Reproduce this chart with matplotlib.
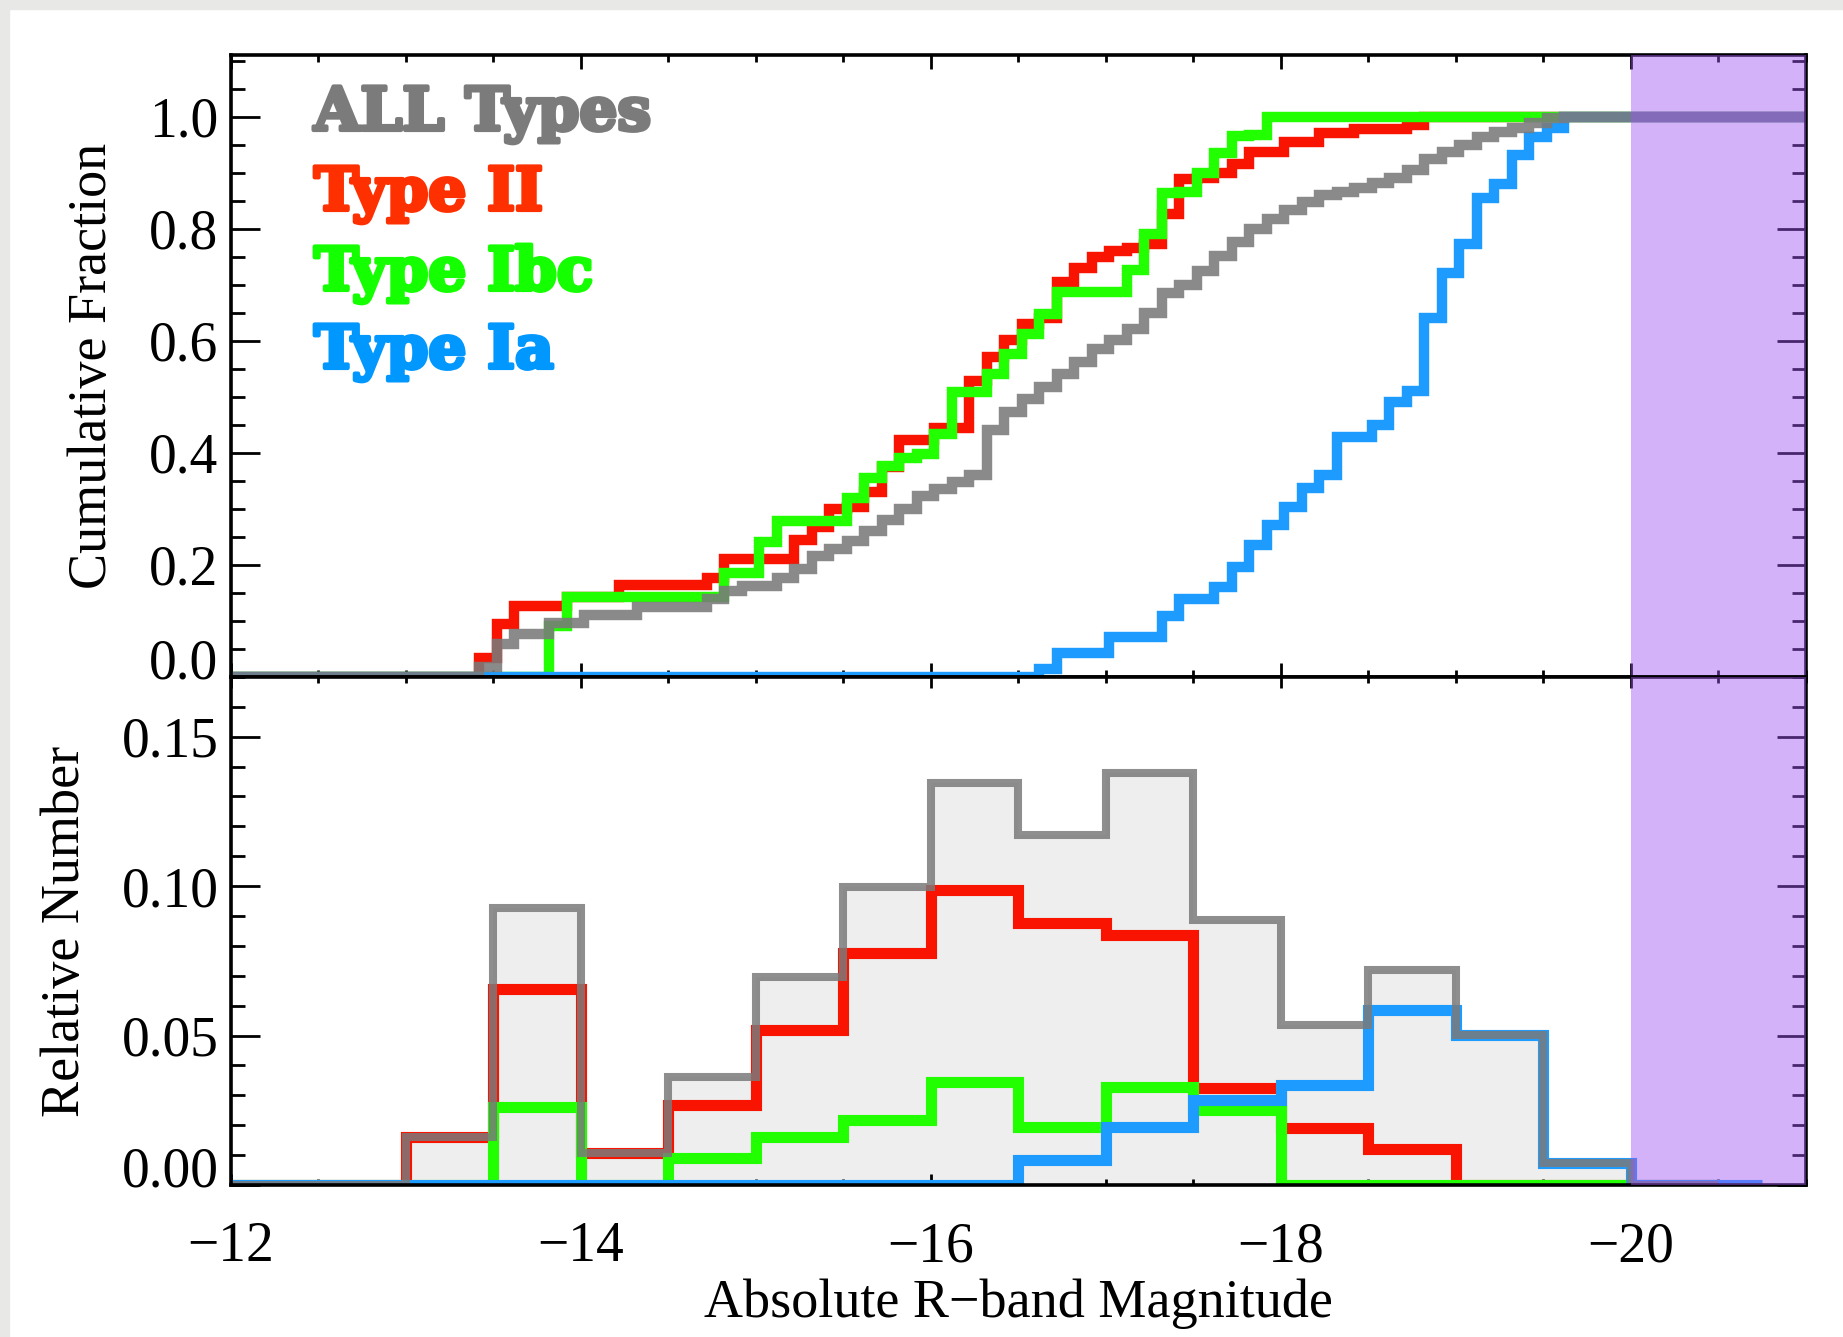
import numpy as np
import matplotlib
matplotlib.use("Agg")
import matplotlib.pyplot as plt
from matplotlib.ticker import MultipleLocator, FormatStrFormatter
from matplotlib.patches import Rectangle
import matplotlib.patheffects as pe
import matplotlib.transforms as mtransforms

# ---------------- data ----------------
# cumulative fractions on a 0.1-mag grid starting at -13.42 (values after each edge)
cum_start = -13.42
cum_step = 0.1
cum_all = [0.017, 0.058, 0.076, 0.076, 0.096, 0.096, 0.111, 0.111, 0.111, 0.124,
           0.124, 0.124, 0.124, 0.139, 0.153, 0.162, 0.162, 0.177, 0.192, 0.216,
           0.228, 0.243, 0.261, 0.280, 0.300, 0.323, 0.335, 0.347, 0.360, 0.440,
           0.472, 0.496, 0.517, 0.540, 0.562, 0.585, 0.601, 0.621, 0.650, 0.685,
           0.700, 0.725, 0.752, 0.776, 0.800, 0.818, 0.833, 0.848, 0.860, 0.866,
           0.872, 0.881, 0.890, 0.905, 0.925, 0.937, 0.949, 0.964, 0.973, 0.979,
           0.988, 0.997, 1.000]
cum_ii = [0.033, 0.094, 0.127, 0.127, 0.127, 0.142, 0.142, 0.142, 0.164, 0.164,
          0.164, 0.164, 0.164, 0.177, 0.210, 0.210, 0.210, 0.210, 0.245, 0.267,
          0.300, 0.303, 0.330, 0.374, 0.422, 0.422, 0.445, 0.445, 0.529, 0.571,
          0.601, 0.630, 0.640, 0.705, 0.729, 0.750, 0.760, 0.765, 0.772, 0.827,
          0.889, 0.890, 0.900, 0.915, 0.936, 0.936, 0.955, 0.955, 0.970, 0.970,
          0.978, 0.978, 0.978, 0.985, 1.000]
cum_ibc = [0.000, 0.000, 0.000, 0.000, 0.090, 0.142, 0.142, 0.142, 0.142, 0.142,
           0.142, 0.142, 0.142, 0.142, 0.186, 0.186, 0.240, 0.279, 0.279, 0.279,
           0.279, 0.320, 0.355, 0.377, 0.390, 0.398, 0.434, 0.508, 0.508, 0.541,
           0.577, 0.612, 0.648, 0.687, 0.687, 0.687, 0.687, 0.726, 0.791, 0.863,
           0.866, 0.900, 0.935, 0.966, 0.968, 1.000]
cum_ia = [0.000, 0.000, 0.000, 0.000, 0.000, 0.000, 0.000, 0.000, 0.000, 0.000,
          0.000, 0.000, 0.000, 0.000, 0.000, 0.000, 0.000, 0.000, 0.000, 0.000,
          0.000, 0.000, 0.000, 0.000, 0.000, 0.000, 0.000, 0.000, 0.000, 0.000,
          0.000, 0.000, 0.014, 0.043, 0.043, 0.043, 0.071, 0.071, 0.071, 0.109,
          0.139, 0.139, 0.160, 0.196, 0.235, 0.272, 0.304, 0.338, 0.360, 0.428,
          0.428, 0.450, 0.490, 0.510, 0.640, 0.720, 0.773, 0.854, 0.880, 0.931,
          0.963, 0.980, 1.000]

# relative-number histograms, 0.5-mag bins starting at -12
hist_start = -12.0
hist_step = 0.5
hist_all = [0.0, 0.0, 0.0161, 0.0926, 0.0108, 0.0362, 0.0697, 0.0998, 0.1345,
            0.1172, 0.1378, 0.0887, 0.0535, 0.0719, 0.0502, 0.0072, 0.0]
hist_ii = [0.0, 0.0, 0.0161, 0.0655, 0.0108, 0.0267, 0.0518, 0.0775, 0.0987,
           0.0876, 0.0837, 0.0323, 0.0189, 0.0122, 0.0, 0.0, 0.0]
hist_ibc = [0.0, 0.0, 0.0, 0.0260, 0.0, 0.0089, 0.0161, 0.0217, 0.0346,
            0.0195, 0.0329, 0.0250, 0.0, 0.0, 0.0, 0.0, 0.0]
hist_ia = [0.0, 0.0, 0.0, 0.0, 0.0, 0.0, 0.0, 0.0, 0.0,
           0.0083, 0.0195, 0.0284, 0.0334, 0.0585, 0.0502, 0.0072, 0.0, 0.0]

legend_labels = ["ALL Types", "Type II", "Type Ibc", "Type Ia"]
x_ticks = [-12, -14, -16, -18, -20]
top_yticks = [0.0, 0.2, 0.4, 0.6, 0.8, 1.0]
bot_yticks = [0.00, 0.05, 0.10, 0.15]
xlim = (-12, -21)
shade_range = (-20, -21)

# ---------------- style ----------------
C_ALL = '#7a7a7a'
C_II = '#f81400'
C_IBC = '#22ff00'
C_IA = '#1e9bff'
T_ALL = '#7b7b7b'
T_II = '#ff3000'
T_IBC = '#14ff00'
T_IA = '#0097ff'
PURPLE = (159/255, 86/255, 244/255)

plt.rcParams['font.family'] = ['Liberation Serif', 'DejaVu Serif']
plt.rcParams['axes.unicode_minus'] = True

fig = plt.figure(figsize=(18.43, 13.37), dpi=100)
fig.patch.set_facecolor('white')
fig.patches.append(Rectangle((0, 1 - 9/1337), 1, 9/1337, transform=fig.transFigure,
                             color='#e8e8e6', zorder=0))
fig.patches.append(Rectangle((0, 0), 9/1843, 1, transform=fig.transFigure,
                             color='#e8e8e6', zorder=0))

ax1 = fig.add_axes([0.1253, 0.4937, 0.8546, 0.4652])
ax2 = fig.add_axes([0.1253, 0.1137, 0.8546, 0.3800])


def cum_xy(vals):
    n = len(vals)
    edges = cum_start - cum_step * np.arange(n + 1)
    v = np.asarray(vals, float)
    xs = np.concatenate([[xlim[0]], np.repeat(edges[:n], 2), [xlim[1]]])
    ys = np.concatenate([[0.0, 0.0], np.repeat(v, 2)[:-1], [v[-1]]])
    return xs, ys


def hist_xy(vals, step=hist_step):
    n = len(vals)
    edges = hist_start - step * np.arange(n + 1)
    if len(vals) > 17:
        edges[-1] = edges[-2] - step / 2
    v = np.asarray(vals, float)
    xs = np.concatenate([np.repeat(edges, 2)[1:-1], [edges[-1]]])
    ys = np.concatenate([np.repeat(v, 2), [0.0]])
    return xs, ys


line_kw = dict(solid_joinstyle='miter', solid_capstyle='butt')

# ---- top panel: cumulative fractions ----
for vals, col, z, lw, a in [(cum_ii, C_II, 2.0, 7.5, 1.0),
                            (cum_ibc, C_IBC, 2.1, 7.5, 1.0),
                            (cum_ia, C_IA, 2.2, 7.5, 1.0),
                            (cum_all, C_ALL, 2.3, 7.5, 0.88)]:
    xs, ys = cum_xy(vals)
    ax1.plot(xs, ys, color=col, lw=lw, zorder=z, alpha=a, **line_kw)

# ---- bottom panel: histograms ----
xs, ys = hist_xy(hist_all)
ax2.fill_between(xs, ys, 0, color='#eeeeee', lw=0, zorder=1)
for vals, col, z, lw, a in [(hist_ii, C_II, 2.0, 8.0, 1.0),
                            (hist_ibc, C_IBC, 2.1, 8.0, 1.0),
                            (hist_ia, C_IA, 2.2, 8.0, 1.0),
                            (hist_all, C_ALL, 2.3, 5.8, 0.85)]:
    xs, ys = hist_xy(vals)
    ax2.plot(xs, ys, color=col, lw=lw, zorder=z, alpha=a, **line_kw)

for ax in (ax1, ax2):
    ax.set_xlim(*xlim)
    ax.axvspan(shade_range[0], shade_range[1], color=PURPLE, alpha=0.45, lw=0, zorder=10)
    ax.xaxis.set_major_locator(MultipleLocator(2))
    ax.xaxis.set_minor_locator(MultipleLocator(0.5))
    ax.tick_params(which='both', direction='in', top=True, right=True,
                   width=2, colors='black', labelsize=40)
    for sp in ax.spines.values():
        sp.set_linewidth(2.6)
        sp.set_zorder(2.5)

ax1.set_ylim(0, 1.11)
ax1.set_yticks(top_yticks)
ax1.yaxis.set_minor_locator(MultipleLocator(0.05))
ax1.yaxis.set_major_formatter(FormatStrFormatter('%.1f'))
ax1.tick_params(axis='y', which='major', length=21, pad=9)
ax1.tick_params(axis='y', which='minor', length=10)
ax1.tick_params(axis='x', which='major', length=10)
ax1.tick_params(axis='x', which='minor', length=5)
ax1.tick_params(axis='x', labelbottom=False)
ax1.set_ylabel('Cumulative Fraction', fontsize=39, labelpad=22)

ax2.set_ylim(0, 0.17)
ax2.set_yticks(bot_yticks)
ax2.yaxis.set_minor_locator(MultipleLocator(0.01))
ax2.yaxis.set_major_formatter(FormatStrFormatter('%.2f'))
ax2.set_xticks(x_ticks)
ax2.tick_params(axis='y', which='major', length=21, pad=9)
ax2.tick_params(axis='y', which='minor', length=10)
ax2.tick_params(axis='x', which='major', length=8, pad=26)
ax2.tick_params(axis='x', which='minor', length=4.5)
ax2.set_ylabel('Relative Number', fontsize=39, labelpad=22)
ax2.set_xlabel('Absolute R\u2212band Magnitude', fontsize=39, labelpad=4)

# lift the zero labels slightly, as in the original
for ax in (ax1, ax2):
    t = ax.yaxis.get_major_ticks()[0]
    t.label1.set_transform(t.label1.get_transform() +
                           mtransforms.ScaledTranslation(0, 0.18, fig.dpi_scale_trans))

# legend text
leg_x = 314 / 1843
leg_base = [130, 210, 290, 368]
for lab, col, yb in zip(legend_labels, [T_ALL, T_II, T_IBC, T_IA], leg_base):
    fig.text(leg_x, 1 - yb / 1337, lab, color=col, fontsize=43,
             family='DejaVu Serif', weight='bold', va='baseline', ha='left',
             path_effects=[pe.withStroke(linewidth=3.0, foreground=col,
                                         joinstyle='round', capstyle='round')],
             zorder=20)

fig.savefig('out.png', dpi=100, facecolor='white')
